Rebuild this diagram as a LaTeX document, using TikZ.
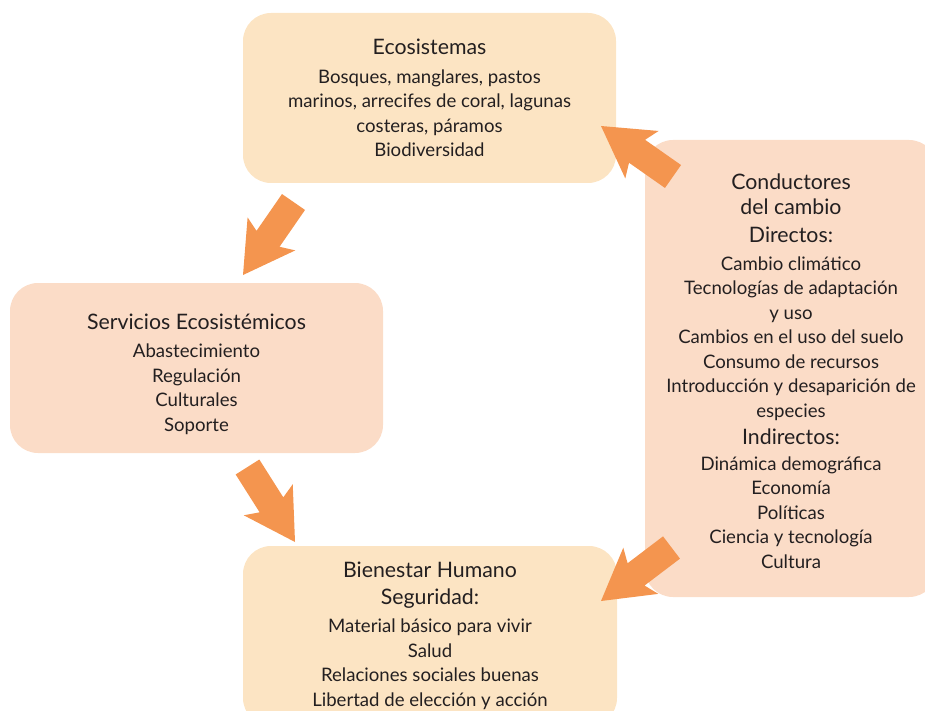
\documentclass[tikz,border=0pt]{standalone}
\usepackage{fontspec}
\setmainfont{Lato}
\usetikzlibrary{calc}
\definecolor{boxA}{HTML}{FCE4C3}
\definecolor{boxB}{HTML}{FBDCC7}
\definecolor{arrowc}{HTML}{F4954F}
\definecolor{txt}{HTML}{231F20}
\newcommand\bodyf{\fontsize{18.6}{24.5}\selectfont}
\newcommand\titlef{\fontsize{21.3}{24.5}\selectfont}
\newcommand\blockarrow[2]{%
  \fill[arrowc] ($(#1)!14pt!90:(#2)$)
    -- ($(#2)!44pt!(#1)!14pt!-90:(#1)$)
    -- ($(#2)!50pt!(#1)!29pt!-90:(#1)$)
    -- (#2)
    -- ($(#2)!50pt!(#1)!29pt!90:(#1)$)
    -- ($(#2)!44pt!(#1)!14pt!90:(#1)$)
    -- ($(#1)!14pt!-90:(#2)$) -- cycle;}
\tikzset{
  panel/.style={rectangle, rounded corners=28pt, align=center, text=txt,
    font=\bodyf, inner sep=0pt},
}
\begin{document}
\begin{tikzpicture}[x=1pt,y=-1pt]
\useasboundingbox (0,0) rectangle (925,711);
\clip (0,0) rectangle (925,711);
\node[panel, fill=boxA, minimum width=373pt, minimum height=170pt] (eco) at (429.5,98)
  {{\titlef Ecosistemas}\\[4.5pt]
   Bosques, manglares, pastos\\
   marinos, arrecifes de coral, lagunas\\
   costeras, páramos\\
   Biodiversidad};
\node[panel, fill=boxB, minimum width=373pt, minimum height=170pt] (serv) at (196.5,368)
  {};
\node[panel] (servt) at (196.5,374)
  {{\titlef Servicios Ecosistémicos}\\[4pt]
   Abastecimiento\\
   Regulación\\
   Culturales\\
   Soporte};
\node[panel, fill=boxA, minimum width=374pt, minimum height=180pt] (bien) at (430,636)
  {{\titlef Bienestar Humano}\\[2.5pt]
   {\titlef Seguridad:}\\[3.5pt]
   Material básico para vivir\\
   Salud\\
   Relaciones sociales buenas\\
   Libertad de elección y acción};
\node[panel, fill=boxB, minimum width=292pt, minimum height=457pt] (cond) at (791,368.5)
  {};
\node[panel] (condt) at (791,371)
  {{\titlef Conductores}\\[0.5pt]
   {\titlef del cambio}\\[3.5pt]
   {\titlef Directos:}\\[3.5pt]
   Cambio climático\\
   Tecnologías de adaptación\\
   y uso\\
   Cambios en el uso del suelo\\
   Consumo de recursos\\
   Introducción y desaparición de\\
   especies\\[2.5pt]
   {\titlef Indirectos:}\\[1.5pt]
   Dinámica demográfica\\
   Economía\\
   Políticas\\
   Ciencia y tecnología\\
   Cultura};
\coordinate (t1) at (293.5,202);  \coordinate (h1) at (243,275);
\coordinate (t2) at (247.5,467);  \coordinate (h2) at (295,542);
\coordinate (t3) at (673,176.5);  \coordinate (h3) at (601,126);
\coordinate (t4) at (671.5,547.5); \coordinate (h4) at (601,601);
\blockarrow{t1}{h1}
\blockarrow{t2}{h2}
\blockarrow{t3}{h3}
\blockarrow{t4}{h4}
\end{tikzpicture}
\end{document}
